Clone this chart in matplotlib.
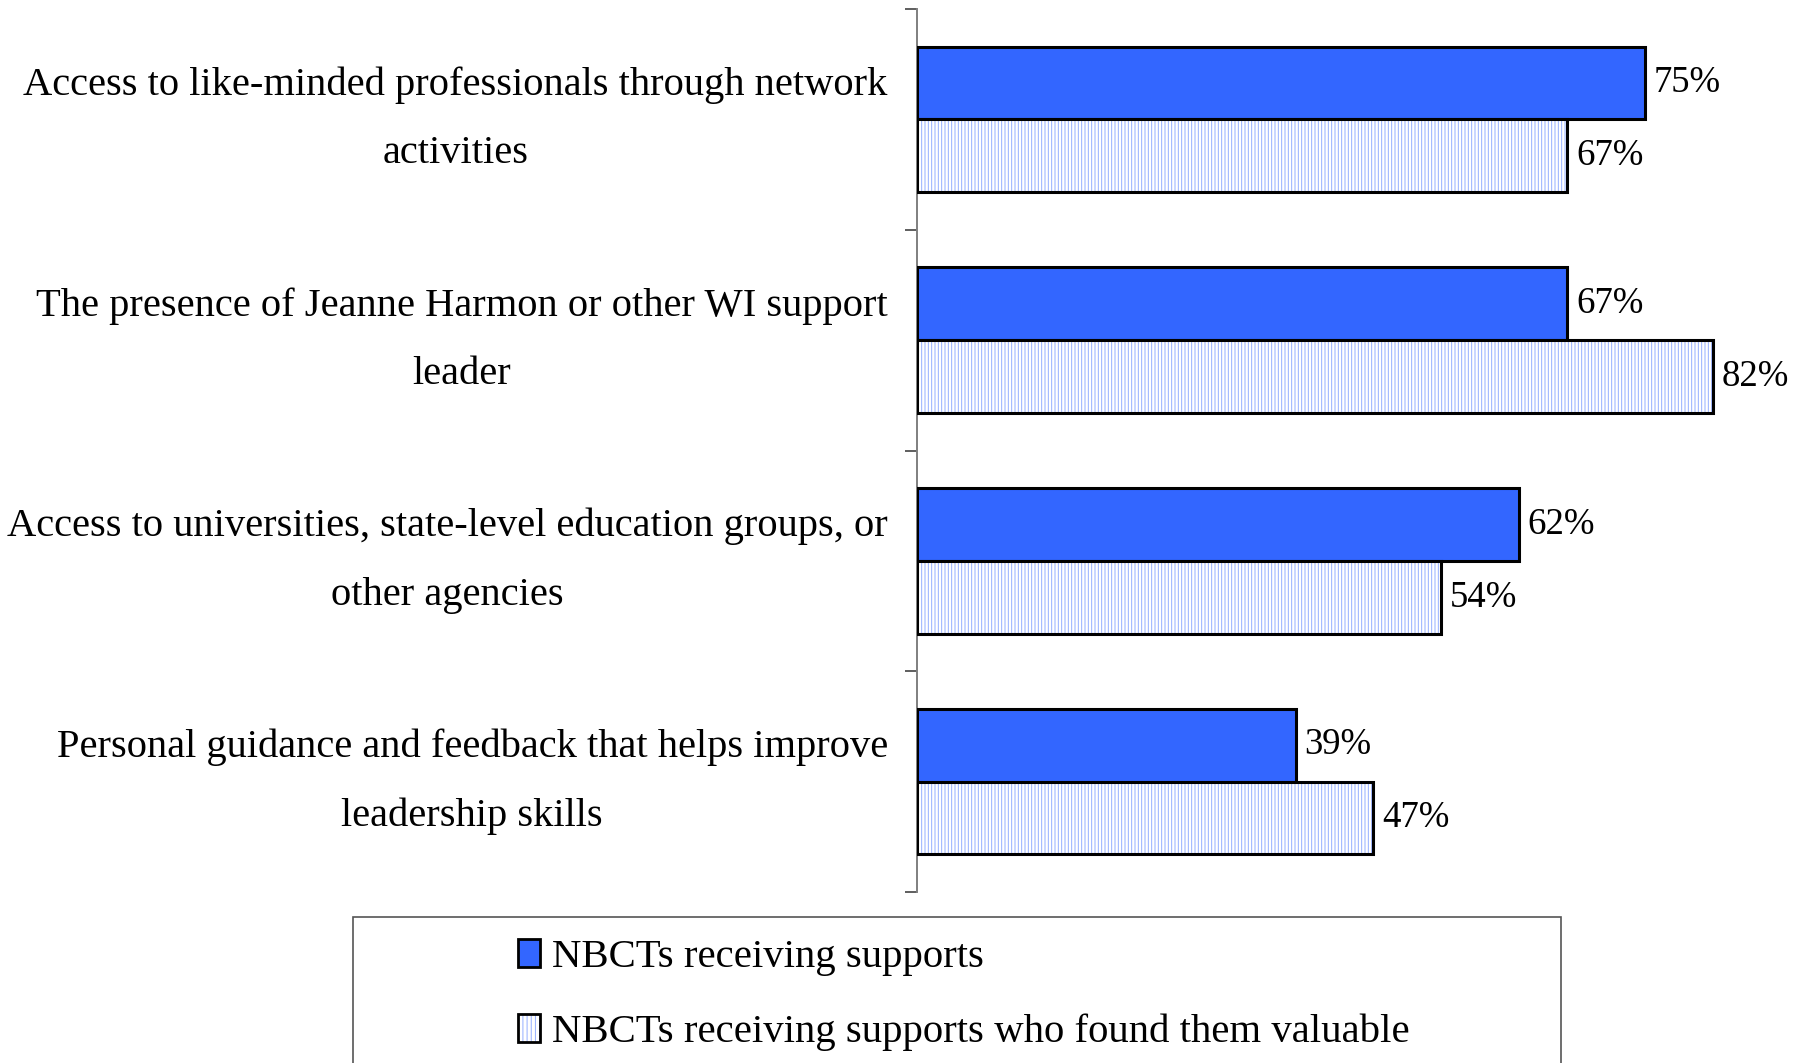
import matplotlib
matplotlib.use("Agg")
import matplotlib.pyplot as plt
from matplotlib.patches import Patch, Rectangle
from matplotlib.legend_handler import HandlerTuple

categories = [
    "Access to like-minded professionals through network\nactivities",
    "The presence of Jeanne Harmon or other WI support\nleader",
    "Access to universities, state-level education groups, or\nother agencies",
    "Personal guidance and feedback that helps improve\nleadership skills",
]
receiving = [75, 67, 62, 39]
valuable = [67, 82, 54, 47]
series_names = ["NBCTs receiving supports",
                "NBCTs receiving supports who found them valuable"]

W, H = 1797, 1063
DPI = 100
plt.rcParams["font.family"] = ["Liberation Serif", "DejaVu Serif"]
plt.rcParams["hatch.linewidth"] = 0.7

BLUE = "#3366FF"
HATCH_BLUE = "#93AEFF"
FS_CAT = 29.2
FS_LEG = 29.3
FS_VAL = 26.5

fig = plt.figure(figsize=(W / DPI, H / DPI), dpi=DPI)
ax = fig.add_axes([917 / W, 1 - 892 / H, (W - 917) / W, (892 - 9) / H])

n = len(categories)
pos = list(range(n))
h = 0.33
y_top = [p - h / 2 for p in pos]
y_bot = [p + h / 2 for p in pos]

ax.barh(y_top, receiving, height=h, color=BLUE, edgecolor="black", linewidth=2.2, zorder=3)
ax.barh(y_bot, valuable, height=h, color="white", edgecolor=HATCH_BLUE,
        hatch="|||||", linewidth=0, zorder=3)
ax.barh(y_bot, valuable, height=h, color="none", edgecolor="black", linewidth=2.2, zorder=4)

ax.set_xlim(0, (W - 917) / 9.707)
ax.set_ylim(n - 0.5, -0.5)

# value labels
for yy, v in zip(y_top, receiving):
    ax.annotate(f"{v}%", xy=(v, yy), xytext=(6.5, 0), textcoords="offset points",
                ha="left", va="center", fontsize=FS_VAL)
for yy, v in zip(y_bot, valuable):
    ax.annotate(f"{v}%", xy=(v, yy), xytext=(6.5, 0), textcoords="offset points",
                ha="left", va="center", fontsize=FS_VAL)

# category labels
for p, lab in zip(pos, categories):
    ax.annotate(lab, xy=(0, p), xycoords=("axes fraction", "data"),
                xytext=(-21, 0), textcoords="offset points",
                ha="right", va="center", multialignment="center",
                fontsize=FS_CAT, linespacing=2.12)

# axes styling
for s in ("top", "right", "bottom"):
    ax.spines[s].set_visible(False)
ax.spines["left"].set_color("#7f7f7f")
ax.spines["left"].set_linewidth(1.4)
ax.set_yticks([p - 0.5 for p in pos] + [n - 0.5])
ax.set_yticklabels([])
ax.tick_params(axis="y", direction="out", length=8.6, width=1.1, color="#333333")
ax.set_xticks([])

# legend frame
fig.add_artist(Rectangle((353 / W, -0.05), (1561 - 353) / W, 0.05 + 1 - 917 / H,
                         transform=fig.transFigure, facecolor="none",
                         edgecolor="#555555", linewidth=1.2, clip_on=False))

h1 = Patch(facecolor=BLUE, edgecolor="black", linewidth=2.0)
h2 = (Patch(facecolor="white", edgecolor=HATCH_BLUE, hatch="||||", linewidth=0),
      Patch(facecolor="none", edgecolor="black", linewidth=2.0))
fig.legend([h1, h2], series_names, loc="center left",
           bbox_to_anchor=(518 / W, 1 - 995 / H),
           frameon=False, fontsize=FS_LEG, borderpad=0, borderaxespad=0,
           handlelength=0.53, handleheight=0.71, handletextpad=0.3,
           labelspacing=0.92,
           handler_map={tuple: HandlerTuple(ndivide=1)})

fig.savefig("out.png", dpi=DPI)
